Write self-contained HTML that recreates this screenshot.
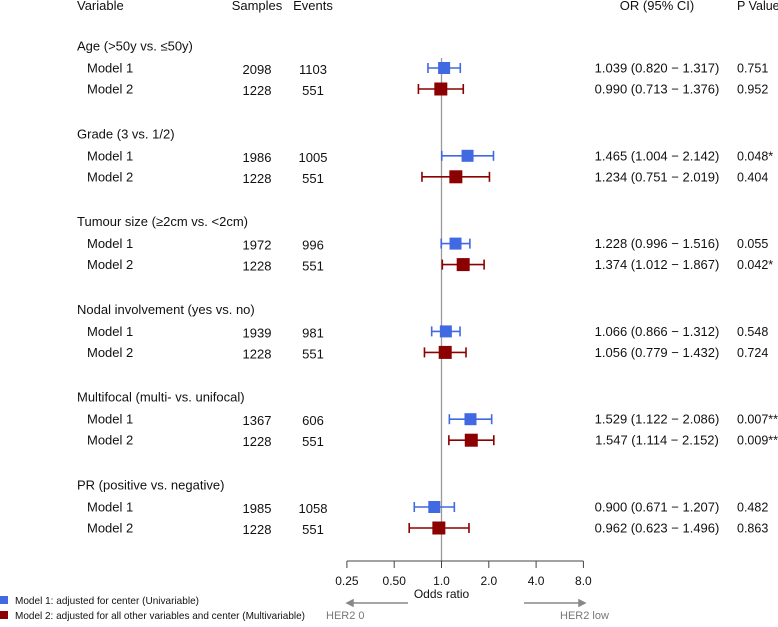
<!DOCTYPE html>
<html><head><meta charset="utf-8"><style>
body{margin:0;background:#fff;}
svg text{font-family:"Liberation Sans",Arial,sans-serif;fill:#111;}
</style></head><body>
<svg id="c" width="778" height="622" xmlns="http://www.w3.org/2000/svg"></svg>
<script>
const groups=["Age (>50y vs. ≤50y)","Grade (3 vs. 1/2)","Tumour size (≥2cm vs. <2cm)","Nodal involvement (yes vs. no)","Multifocal (multi- vs. unifocal)","PR (positive vs. negative)"];
const samples1=[2098,1986,1972,1939,1367,1985];
const events1=[1103,1005,996,981,606,1058];
const samples2=[1228,1228,1228,1228,1228,1228];
const events2=[551,551,551,551,551,551];
const or1=[1.039,1.465,1.228,1.066,1.529,0.900];
const lo1=[0.820,1.004,0.996,0.866,1.122,0.671];
const hi1=[1.317,2.142,1.516,1.312,2.086,1.207];
const p1=["0.751","0.048*","0.055","0.548","0.007**","0.482"];
const or2=[0.990,1.234,1.374,1.056,1.547,0.962];
const lo2=[0.713,0.751,1.012,0.779,1.114,0.623];
const hi2=[1.376,2.019,1.867,1.432,2.152,1.496];
const p2=["0.952","0.404","0.042*","0.724","0.009**","0.863"];
const ticks=[0.25,0.5,1,2,4,8];
const tickLabels=["0.25","0.50","1.0","2.0","4.0","8.0"];

const svg=document.getElementById('c');
const NS="http://www.w3.org/2000/svg";
function el(tag,attrs,txt){const e=document.createElementNS(NS,tag);for(const k in attrs)e.setAttribute(k,attrs[k]);if(txt!==undefined)e.textContent=txt;svg.appendChild(e);return e;}
const xs=v=>441.5+Math.log2(v)*47.3;
const gy=i=>46+i*87.8;
const f3=v=>v.toFixed(3);

let t;
t=el('text',{x:77,y:10,'font-size':13},'Variable');
t=el('text',{x:257,y:10,'font-size':13,'text-anchor':'middle'},'Samples');
t=el('text',{x:313,y:10,'font-size':13,'text-anchor':'middle'},'Events');
t=el('text',{x:657,y:10,'font-size':13,'text-anchor':'middle'},'OR (95% CI)');
t=el('text',{x:737,y:10,'font-size':12.5},'P Value');

t=el('line',{x1:441.5,y1:58,x2:441.5,y2:561,stroke:'#999','stroke-width':1.3});



function row(y,label,s,e,o,l,h,p,color,size,name){
  let a=el('text',{x:87,y:y+4.5,'font-size':13},label);
  
  
  a=el('text',{x:257,y:y+6,'font-size':13,'text-anchor':'middle'},s);
  
  
  a=el('text',{x:313,y:y+6,'font-size':13,'text-anchor':'middle'},e);
  
  
  a=el('text',{x:657,y:y+4.5,'font-size':13,'text-anchor':'middle'},f3(o)+' ('+f3(l)+' − '+f3(h)+')');
  
  
  a=el('text',{x:737,y:y+4.5,'font-size':12.5},p);
  
  
  a=el('line',{x1:xs(l),y1:y,x2:xs(h),y2:y,stroke:color,'stroke-width':1.6});
  
  
  a=el('line',{x1:xs(l),y1:y-5,x2:xs(l),y2:y+5,stroke:color,'stroke-width':1.6});
  
  
  a=el('line',{x1:xs(h),y1:y-5,x2:xs(h),y2:y+5,stroke:color,'stroke-width':1.6});
  
  
  a=el('rect',{x:xs(o)-size/2,y:y-size/2,width:size,height:size,fill:color});
  
  
}
for(let i=0;i<groups.length;i++){
  const y=gy(i);
  let g=el('text',{x:77,y:y+4.5,'font-size':13},groups[i]);
  
  
  row(y+22,'Model 1',samples1[i],events1[i],or1[i],lo1[i],hi1[i],p1[i],'#4169E1',12,'g'+i+'-model1');
  row(y+43,'Model 2',samples2[i],events2[i],or2[i],lo2[i],hi2[i],p2[i],'#8B0000',13,'g'+i+'-model2');
}
t=el('line',{x1:xs(0.25),y1:561,x2:xs(8),y2:561,stroke:'#444','stroke-width':1});


for(let i=0;i<ticks.length;i++){
  let k=el('line',{x1:xs(ticks[i]),y1:561,x2:xs(ticks[i]),y2:568,stroke:'#444','stroke-width':1});
  
  
  k=el('text',{x:xs(ticks[i]),y:585,'font-size':12,'text-anchor':'middle'},tickLabels[i]);
  
  
}
t=el('text',{x:441.5,y:598,'font-size':12,'text-anchor':'middle'},'Odds ratio');


t=el('path',{d:'M408 603 L347 603 M347 603 L353 600 L353 606 Z',stroke:'#888',fill:'#888','stroke-width':1.5});


t=el('path',{d:'M524 603 L585 603 M585 603 L579 600 L579 606 Z',stroke:'#888',fill:'#888','stroke-width':1.5});


t=el('text',{x:326,y:619,'font-size':11,style:'fill:#777'},'HER2 0');


t=el('text',{x:560,y:619,'font-size':11,style:'fill:#777'},'HER2 low');


t=el('rect',{x:0,y:596,width:8,height:8,fill:'#4169E1'});


t=el('text',{x:15,y:604,'font-size':10.5,textLength:184,lengthAdjust:'spacingAndGlyphs'},'Model 1: adjusted for center (Univariable)');


t=el('rect',{x:0,y:611,width:8,height:8,fill:'#8B0000'});


t=el('text',{x:15,y:619,'font-size':10.5,textLength:290,lengthAdjust:'spacingAndGlyphs'},'Model 2: adjusted for all other variables and center (Multivariable)');


</script>
</body></html>
